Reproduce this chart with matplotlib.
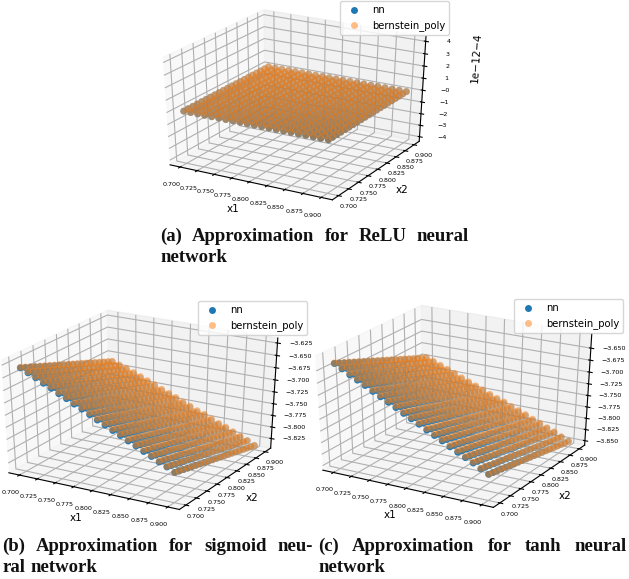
import matplotlib
matplotlib.use("Agg")
import matplotlib.pyplot as plt
import numpy as np
from mpl_toolkits.mplot3d import Axes3D  # noqa: F401

W, H = 629, 579

grid = [0.70, 0.71, 0.72, 0.73, 0.74, 0.75, 0.76, 0.77, 0.78, 0.79, 0.80,
        0.81, 0.82, 0.83, 0.84, 0.85, 0.86, 0.87, 0.88, 0.89, 0.90]
ticks = [0.700, 0.725, 0.750, 0.775, 0.800, 0.825, 0.850, 0.875, 0.900]

# relu: flat plane, both series the same
relu_level = -4.0
relu_ticks = [-4e-12, -3e-12, -2e-12, -1e-12, 0.0, 1e-12, 2e-12, 3e-12, 4e-12]

# share of the x2 drop reached at each grid value
x2_share = [0.00, 0.05, 0.10, 0.15, 0.20, 0.25, 0.30, 0.35, 0.40, 0.45, 0.50,
            0.55, 0.60, 0.65, 0.70, 0.75, 0.80, 0.85, 0.90, 0.95, 1.00]

# z at x2=0.70 along x1, and the total drop to x2=0.90
sigmoid_nn_x1 = [-3.633, -3.640, -3.647, -3.655, -3.662, -3.670, -3.677,
                 -3.685, -3.692, -3.700, -3.708, -3.715, -3.723, -3.730,
                 -3.738, -3.745, -3.753, -3.760, -3.768, -3.775, -3.783]
sigmoid_poly_x1 = [-3.632, -3.638, -3.645, -3.652, -3.659, -3.667, -3.674,
                   -3.682, -3.689, -3.697, -3.705, -3.712, -3.720, -3.727,
                   -3.735, -3.743, -3.750, -3.758, -3.766, -3.774, -3.783]
sigmoid_drop = [-0.080, -0.079, -0.077, -0.076, -0.075, -0.073, -0.072,
                -0.071, -0.070, -0.068, -0.067, -0.066, -0.065, -0.063,
                -0.062, -0.061, -0.059, -0.058, -0.057, -0.055, -0.054]
sigmoid_ticks = [-3.825, -3.800, -3.775, -3.750, -3.725, -3.700, -3.675,
                 -3.650, -3.625]

tanh_nn_x1 = [-3.638, -3.646, -3.655, -3.663, -3.671, -3.680, -3.688,
              -3.696, -3.704, -3.713, -3.721, -3.729, -3.738, -3.746,
              -3.754, -3.763, -3.771, -3.779, -3.787, -3.796, -3.804]
tanh_poly_x1 = [-3.637, -3.644, -3.652, -3.660, -3.668, -3.677, -3.685,
                -3.693, -3.701, -3.710, -3.718, -3.726, -3.735, -3.743,
                -3.751, -3.760, -3.768, -3.777, -3.785, -3.795, -3.804]
tanh_drop = [-0.085, -0.083, -0.081, -0.079, -0.077, -0.075, -0.073,
             -0.071, -0.069, -0.067, -0.065, -0.062, -0.060, -0.058,
             -0.056, -0.054, -0.052, -0.050, -0.048, -0.046, -0.044]
tanh_ticks = [-3.850, -3.825, -3.800, -3.775, -3.750, -3.725, -3.700,
              -3.675, -3.650]

fig = plt.figure(figsize=(W / 100, H / 100), dpi=100)


def px_rect(x0, y0, x1, y1):
    # pixel box (from top left) to figure fractions
    return [x0 / W, 1 - y1 / H, (x1 - x0) / W, (y1 - y0) / H]


def panel(rect, z_nn, z_poly, zticks, zlim, legend_xy):
    ax = fig.add_axes(px_rect(*rect), projection="3d")
    # the 3d box fills the axes, not kept square
    ax.apply_aspect = lambda position=None: None
    ax.set_box_aspect((1, 1, 1))
    ax.set_facecolor("none")
    X1, X2 = np.meshgrid(grid, grid, indexing="ij")
    ax.scatter(X1.ravel(), X2.ravel(), z_nn.ravel(), s=25, c="C0",
               linewidths=0, label="nn")
    ax.scatter(X1.ravel(), X2.ravel(), z_poly.ravel(), s=25, c="C1", alpha=0.5,
               linewidths=0, label="bernstein_poly")
    ax.set_xlim(0.685, 0.915)
    ax.set_ylim(0.685, 0.915)
    ax.set_xticks(ticks)
    ax.set_yticks(ticks)
    ax.set_zticks(zticks)
    ax.set_zlim(*zlim)
    ax.tick_params(axis="both", labelsize=4.6, width=0.6, length=2)
    ax.tick_params(axis="x", pad=1)
    ax.tick_params(axis="y", pad=-2)
    ax.tick_params(axis="z", pad=1)
    ax.xaxis.set_major_formatter("{x:.3f}")
    ax.yaxis.set_major_formatter("{x:.3f}")
    ax.set_xlabel("x1", fontsize=7.5, labelpad=-5)
    ax.set_ylabel("x2", fontsize=7.5, labelpad=-6)
    ax.zaxis.labelpad = -1
    ax.zaxis.get_offset_text().set_fontsize(7.5)
    lx, ly = legend_xy
    ax.legend(loc="upper right", bbox_to_anchor=(lx / W, 1 - ly / H),
              bbox_transform=fig.transFigure, fontsize=7.2, borderaxespad=0)
    return ax


def caption(lines, x0, x1, y0):
    # justified two-line caption, drawn word by word
    r = fig.canvas.get_renderer()
    for i, line in enumerate(lines):
        words = line.split(" ")
        ts = [fig.text(0, 0, w, family="Liberation Serif", weight="bold",
                       fontsize=13.5, va="baseline", color="#111111")
              for w in words]
        widths = [t.get_window_extent(r).width for t in ts]
        if i == 0:
            gap = (x1 - x0 - sum(widths)) / (len(words) - 1)
        else:
            gap = 5
        x = x0
        for t, w in zip(ts, widths):
            t.set_position((x / W, 1 - (y0 + 21 * i) / H))
            x += w + gap


z_a = np.full((len(grid), len(grid)), relu_level)
panel((135, 1, 450, 207), z_a, z_a, [relu_level + t for t in relu_ticks],
      (relu_level - 4.4e-12, relu_level + 4.4e-12), (449, 1))

z_b_nn = np.array(sigmoid_nn_x1)[:, None] + np.outer(sigmoid_drop, x2_share)
z_b_poly = np.array(sigmoid_poly_x1)[:, None] + np.outer(sigmoid_drop, x2_share)
panel((-28, 301, 303, 517), z_b_nn, z_b_poly, sigmoid_ticks,
      (-3.846, -3.615), (307, 301))

z_c_nn = np.array(tanh_nn_x1)[:, None] + np.outer(tanh_drop, x2_share)
z_c_poly = np.array(tanh_poly_x1)[:, None] + np.outer(tanh_drop, x2_share)
panel((286, 296, 617, 515), z_c_nn, z_c_poly, tanh_ticks,
      (-3.86, -3.62), (623, 299))

caption(["(a) Approximation for ReLU neural", "network"], 160, 469, 241)
caption(["(b) Approximation for sigmoid neu-", "ral network"], 2, 313, 551)
caption(["(c) Approximation for tanh neural", "network"], 318, 627, 551)

fig.savefig("out.png", dpi=100)
